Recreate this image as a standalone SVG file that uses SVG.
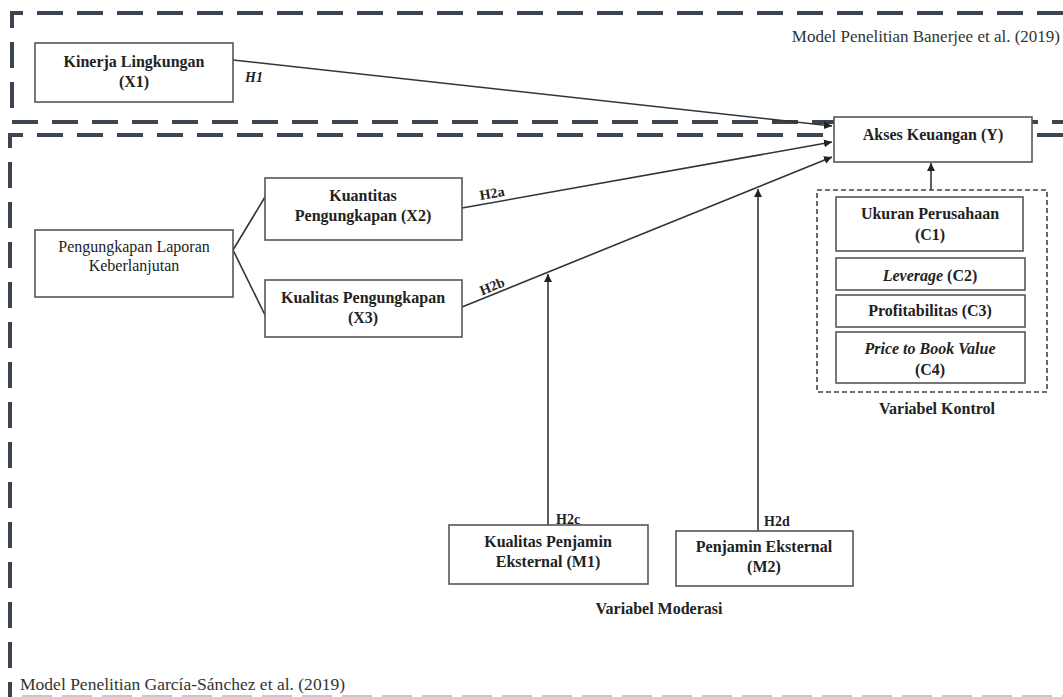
<svg xmlns="http://www.w3.org/2000/svg" width="1063" height="697" viewBox="0 0 1063 697">
<style>
.box{fill:#fff;stroke:#555;stroke-width:1.6}
.t{font-family:"Liberation Serif","Times New Roman",serif;font-size:16px;font-weight:bold;fill:#222;text-anchor:middle}
.r{font-weight:normal}
.h{font-family:"Liberation Serif","Times New Roman",serif;font-size:14px;font-weight:bold;fill:#222}
.frame{fill:none;stroke:#3b4450;stroke-width:4;stroke-dasharray:26 14}
.conn{fill:none;stroke:#333;stroke-width:1.6}
</style>
<defs>
<marker id="arr" viewBox="0 0 10 10" refX="10" refY="5" markerWidth="8" markerHeight="8" markerUnits="userSpaceOnUse" orient="auto">
<path d="M0,0 L10,5 L0,10 z" fill="#222"/>
</marker>
</defs>
<rect width="1063" height="697" fill="#fff"/>
<g id="frames">
<path class="frame" d="M1063,13 H12 V122 H1063"/>
<path class="frame" d="M1063,135 H10 V697"/>
<path d="M22,696 H1063" fill="none" stroke="#c8c8c8" stroke-width="2" stroke-dasharray="30 10"/>
<text x="1060" y="42" font-family="Liberation Serif, Times New Roman, serif" font-size="17" fill="#333" text-anchor="end">Model Penelitian Banerjee et al. (2019)</text>
<text x="20" y="690" font-family="Liberation Serif, Times New Roman, serif" font-size="17" fill="#333" textLength="325" lengthAdjust="spacingAndGlyphs">Model Penelitian García-Sánchez et al. (2019)</text>
</g>
<g id="connectors">
<line class="conn" x1="233" y1="60" x2="832" y2="126" marker-end="url(#arr)"/>
<line class="conn" x1="462" y1="208" x2="832" y2="142" marker-end="url(#arr)"/>
<line class="conn" x1="462" y1="307" x2="832" y2="157" marker-end="url(#arr)"/>
<line class="conn" x1="233" y1="250" x2="265" y2="197"/>
<line class="conn" x1="233" y1="250" x2="265" y2="315"/>
<line class="conn" x1="548" y1="525" x2="548" y2="274" marker-end="url(#arr)"/>
<line class="conn" x1="758" y1="531" x2="758" y2="189" marker-end="url(#arr)"/>
<line class="conn" x1="931" y1="190" x2="931" y2="163" marker-end="url(#arr)"/>
<text class="h" x="245" y="82" font-style="italic">H1</text>
<text class="h" x="492" y="198" text-anchor="middle" transform="rotate(-10 492 193)">H2a</text>
<text class="h" x="492" y="291" text-anchor="middle" transform="rotate(-22 492 286)">H2b</text>
<text class="h" x="556" y="524">H2c</text>
<text class="h" x="764" y="526">H2d</text>
</g>
<g id="x1">
<rect class="box" x="35" y="43" width="198" height="59"/>
<text class="t" x="134" y="67">Kinerja Lingkungan</text>
<text class="t" x="134" y="87">(X1)</text>
</g>
<g id="y">
<rect class="box" x="834" y="117" width="198" height="45"/>
<text class="t" x="933" y="140">Akses Keuangan (Y)</text>
</g>
<g id="plk">
<rect class="box" x="35" y="230" width="198" height="67"/>
<text class="t r" x="134" y="252">Pengungkapan Laporan</text>
<text class="t r" x="134" y="271">Keberlanjutan</text>
</g>
<g id="x2">
<rect class="box" x="265" y="178" width="197" height="62"/>
<text class="t" x="363" y="201">Kuantitas</text>
<text class="t" x="363" y="221">Pengungkapan (X2)</text>
</g>
<g id="x3">
<rect class="box" x="265" y="280" width="197" height="57"/>
<text class="t" x="363" y="303">Kualitas Pengungkapan</text>
<text class="t" x="363" y="323">(X3)</text>
</g>
<g id="kontrol">
<rect x="817" y="190" width="230" height="202" fill="none" stroke="#444" stroke-width="1.6" stroke-dasharray="5 3"/>
<text class="t" x="937" y="414">Variabel Kontrol</text>
</g>
<g id="c1">
<rect class="box" x="836" y="197" width="187" height="54"/>
<text class="t" x="930" y="219">Ukuran Perusahaan</text>
<text class="t" x="930" y="240">(C1)</text>
</g>
<g id="c2">
<rect class="box" x="836" y="258" width="189" height="32"/>
<text class="t" x="930" y="281"><tspan font-style="italic">Leverage</tspan> (C2)</text>
</g>
<g id="c3">
<rect class="box" x="836" y="295" width="189" height="32"/>
<text class="t" x="930" y="316">Profitabilitas (C3)</text>
</g>
<g id="c4">
<rect class="box" x="836" y="332" width="189" height="51"/>
<text class="t" x="930" y="354" font-style="italic">Price to Book Value</text>
<text class="t" x="930" y="375">(C4)</text>
</g>
<g id="m1">
<rect class="box" x="449" y="525" width="199" height="59"/>
<text class="t" x="548" y="547">Kualitas Penjamin</text>
<text class="t" x="548" y="567">Eksternal (M1)</text>
</g>
<g id="m2">
<rect class="box" x="676" y="531" width="177" height="55"/>
<text class="t" x="764" y="552">Penjamin Eksternal</text>
<text class="t" x="764" y="572">(M2)</text>
</g>
<g id="moderasi">
<text class="t" x="659" y="614">Variabel Moderasi</text>
</g>
</svg>
